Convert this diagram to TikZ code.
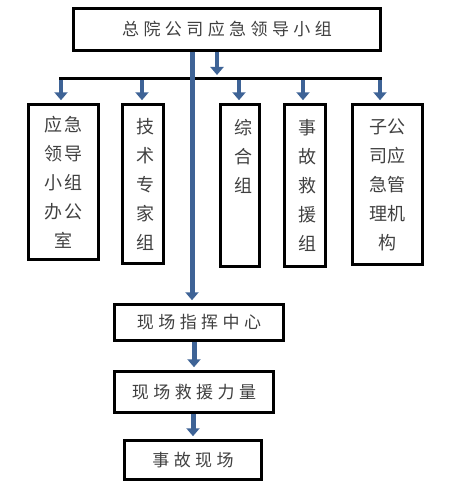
\documentclass[tikz,border=0pt]{standalone}
\usepackage{fontspec}
\usetikzlibrary{arrows.meta,calc}
\newfontfamily\cjk{Noto Sans CJK SC}
\newfontfamily\cjkwide[LetterSpace=26]{Noto Sans CJK SC}
\definecolor{trunkblue}{RGB}{62,99,150}
\newcommand{\shu}[2]{\parbox[c][132pt][t]{#1}{\centering\baselineskip=29pt #2}}

\begin{document}
\begin{tikzpicture}[x=1pt,y=-1pt,
  box/.style={draw,line width=2.5pt,inner sep=0pt,text=black!75,
    font=\cjk\fontsize{18}{29}\selectfont},
  widebox/.style={box,font=\cjkwide\fontsize{17}{20}\selectfont},
  blue arrow/.style={trunkblue,line width=3.5pt,
    -{Triangle[width=13pt,length=8pt]},shorten >=3pt}]
  \useasboundingbox (0,0) rectangle (449,495);

  \node[widebox,minimum width=307pt,minimum height=42pt] (top) at (227,29.5) {总院公司应急领导小组};

  % side groups
  \node[box,minimum width=70pt,minimum height=155pt] (b1) at (63.5,182)
    {\shu{64pt}{应\kern3pt 急\\领\kern3pt 导\\小\kern3pt 组\\办\kern3pt 公\\室}};
  \node[box,minimum width=41pt,minimum height=159pt] (b2) at (143,184)
    {\shu{36pt}{\hspace*{4pt}技\\\hspace*{4pt}术\\\hspace*{4pt}专\\\hspace*{4pt}家\\\hspace*{4pt}组}};
  \node[box,minimum width=39pt,minimum height=162pt] (b3) at (240,185.5)
    {\shu{36pt}{\hspace*{6pt}综\\\hspace*{6pt}合\\\hspace*{6pt}组}};
  \node[box,minimum width=41pt,minimum height=162pt] (b4) at (305,185.5)
    {\shu{36pt}{\hspace*{5pt}事\\\hspace*{5pt}故\\\hspace*{5pt}救\\\hspace*{5pt}援\\\hspace*{5pt}组}};
  \node[box,minimum width=70pt,minimum height=160pt] (b5) at (387.5,184.5)
    {\shu{64pt}{子公\\司应\\急管\\理机\\构}};

  % on site chain
  \node[widebox,minimum width=169pt,minimum height=36pt] (zh) at (199,322.5) {现场指挥中心};
  \node[widebox,minimum width=159pt,minimum height=41pt] (jy) at (194,392) {现场救援力量};
  \node[widebox,minimum width=137pt,minimum height=39pt] (sg) at (193,460) {事故现场};

  \coordinate (trunk) at (192,0);
  \coordinate (split) at (217,0);
  \coordinate (bar west) at (59,78);
  \coordinate (bar east) at (382,78);

  \draw[line width=3pt] (bar west) -- (bar east);
  \draw[blue arrow] (top.south -| split) -- (bar west -| split);
  \foreach \b/\x in {b1/61,b2/142,b3/239,b4/303,b5/380} {
    \coordinate (drop) at (\x,0);
    \draw[blue arrow,shorten <=1.5pt] (bar west -| drop) -- (\b.north -| drop);
  }

  \draw[blue arrow,line width=5pt] (top.south -| trunk) -- (zh.north -| trunk);
  \draw[blue arrow,line width=5pt] (zh.south -| jy) -- (jy.north);
  \draw[blue arrow,line width=5pt] (jy.south -| sg) -- (sg.north);
\end{tikzpicture}
\end{document}
